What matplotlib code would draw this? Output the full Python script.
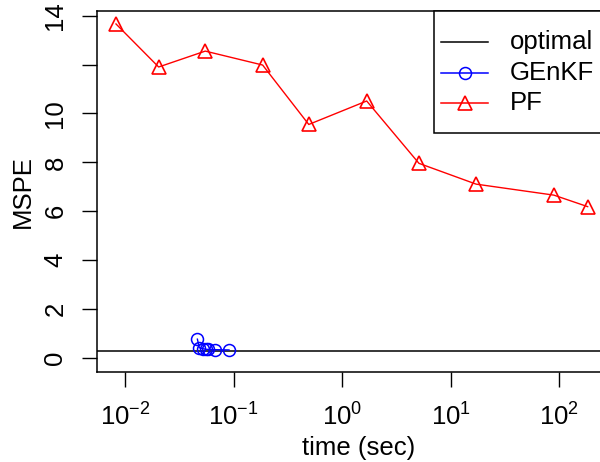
import matplotlib
matplotlib.use("Agg")
import matplotlib.pyplot as plt
from matplotlib.lines import Line2D
from matplotlib.patches import Rectangle
from matplotlib.ticker import LogLocator, LogFormatterSciNotation, NullLocator

plt.rcParams["font.family"] = ["Liberation Sans", "DejaVu Sans"]
plt.rcParams["mathtext.default"] = "regular"

# --- data ---
optimal_mspe = 0.29

genkf_time = [0.0464, 0.0483, 0.0519, 0.0553, 0.0585, 0.0674, 0.0907]
genkf_mspe = [0.77, 0.42, 0.38, 0.36, 0.35, 0.34, 0.33]

pf_time = [0.00826, 0.0204, 0.0548, 0.185, 0.492, 1.68, 5.09, 17.1, 89.0, 182.0]
pf_mspe = [13.66, 11.90, 12.55, 11.98, 9.55, 10.51, 7.96, 7.11, 6.66, 6.19]

y_ticks = [0, 2, 4, 6, 8, 10, 12, 14]
# R dropped the "12" label (overlap with 14)
y_labels = ["0", "2", "4", "6", "8", "10", "", "14"]
legend_labels = ["optimal", "GEnKF", "PF"]

W, H = 600, 462
FS = 18.5


def px(x, y):
    # pixel position (from top-left) -> figure fraction
    return x / W, 1 - y / H


fig = plt.figure(figsize=(6, 4.62), dpi=100)
left, top = px(97, 11)
right, bottom = px(620, 371.5)
ax = fig.add_axes([left, bottom, right - left, top - bottom])

ax.axhline(optimal_mspe, color="black", lw=1.1)
ax.plot(genkf_time, genkf_mspe, color="blue", lw=1.0, marker="o",
        ms=8.6, mfc="none", mec="blue", mew=1.1)
ax.plot(pf_time, pf_mspe, color="red", lw=1.0, marker="^",
        ms=10.5, mfc="none", mec="red", mew=1.2)

ax.set_xscale("log")
ax.set_xlim(10 ** -2.258, 10 ** 2.558)
ax.set_ylim(-0.552, 14.19)
ax.xaxis.set_major_locator(LogLocator(base=10))
ax.xaxis.set_major_formatter(LogFormatterSciNotation())
ax.xaxis.set_minor_locator(NullLocator())
ax.set_yticks(y_ticks)
ax.set_yticklabels(y_labels, rotation=90, va="center")

ax.tick_params(axis="both", length=10.8, width=1.0, labelsize=FS,
               direction="out")
ax.tick_params(axis="x", pad=12.5)
ax.tick_params(axis="y", pad=10.5)
for sp in ax.spines.values():
    sp.set_linewidth(1.1)

ax.set_xlabel("time (sec)", fontsize=FS, labelpad=3.5)
ax.set_ylabel("MSPE", fontsize=FS, labelpad=6)

# legend box drawn in R style (box reaches past the right edge)
lx0, ly0 = px(434, 133)
lx1, ly1 = px(650, 11)
fig.patches.append(Rectangle((lx0, ly0), lx1 - lx0, ly1 - ly0,
                             transform=fig.transFigure, fill=True,
                             facecolor="white", edgecolor="black", lw=1.1,
                             zorder=5))
styles = [
    dict(color="black", marker=None),
    dict(color="blue", marker="o", ms=8.6, mfc="none", mec="blue", mew=1.1),
    dict(color="red", marker="^", ms=10.5, mfc="none", mec="red", mew=1.2),
]
for i, (lab, st) in enumerate(zip(legend_labels, styles)):
    yrow = 42 + i * 30.5
    xa, ya = px(441, yrow)
    xb, _ = px(488, yrow)
    fig.add_artist(Line2D([xa, xb], [ya, ya], transform=fig.transFigure,
                          lw=1.1, zorder=6, color=st["color"]))
    if st["marker"]:
        xm, _ = px(464.5, yrow)
        fig.add_artist(Line2D([xm], [ya], transform=fig.transFigure, zorder=7,
                              linestyle="none", marker=st["marker"], ms=st["ms"],
                              mfc="none", mec=st["mec"], mew=st["mew"]))
    xt, _ = px(510, yrow)
    fig.text(xt, ya, lab, fontsize=FS, va="center", ha="left", zorder=8)

fig.savefig("out.png", dpi=100)
